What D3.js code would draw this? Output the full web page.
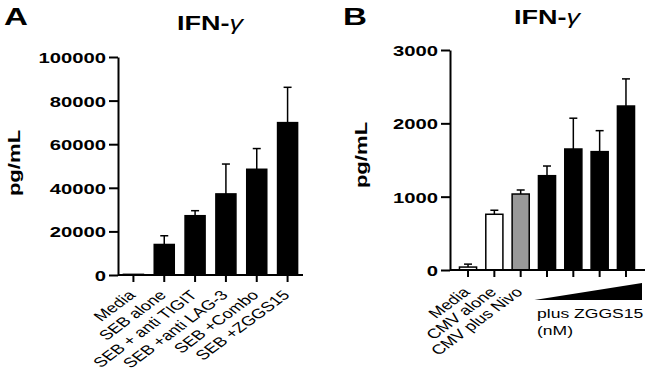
<!DOCTYPE html>
<html><head><meta charset="utf-8">
<script src="https://cdn.jsdelivr.net/npm/d3@7"></script>
<style>
body{margin:0;background:#fff;}
svg{display:block;font-family:"Liberation Sans",Arial,sans-serif;}
</style></head>
<body><svg id="c" width="645" height="372"></svg>
<script>
// Panel A data
const catsA = ["Media","SEB alone","SEB + anti TIGIT","SEB +anti LAG-3","SEB +Combo","SEB +ZGGS15"];
const valsA = [300, 14000, 27200, 37200, 48500, 69900];
const errA  = [0, 4000, 2300, 13700, 9500, 16200];
const ticksA = [0, 20000, 40000, 60000, 80000, 100000];
// Panel B data
const catsB = ["Media","CMV alone","CMV plus Nivo","ZGGS15 c1","ZGGS15 c2","ZGGS15 c3","ZGGS15 c4"];
const labelsB = ["Media","CMV alone","CMV plus Nivo","","","",""];
const valsB = [40, 760, 1036, 1286, 1650, 1614, 2236];
const errB  = [40, 55, 55, 132, 420, 286, 370];
const fillsB = ["#fff","#fff","#999","#000","#000","#000","#000"];
const ticksB = [0, 1000, 2000, 3000];

const svg = d3.select("#c");
const FONT = '"Liberation Sans",Arial,sans-serif';
const SX = 1.35; // wide lettering of the reference

function panel(o){
  const g = svg.append("g");
  const x = d3.scaleBand().domain(o.cats).range([o.x0, o.x1]).paddingInner(o.pi).paddingOuter(o.po);
  const y = d3.scaleLinear().domain([0, o.ymax]).range([o.y0, o.y1]);
  // bars
  g.selectAll("rect.bar").data(o.vals).enter().append("rect")
    .attr("x",(d,i)=>x(o.cats[i])).attr("width",x.bandwidth())
    .attr("y",d=>y(d)).attr("height",d=>y(0)-y(d))
    .attr("fill",(d,i)=>o.fills[i]).attr("stroke","#000").attr("stroke-width",1.5);
  // error bars
  o.vals.forEach((v,i)=>{
    if(!o.errs[i]) return;
    const cx = x(o.cats[i]) + x.bandwidth()/2;
    g.append("line").attr("x1",cx).attr("x2",cx).attr("y1",y(v)).attr("y2",y(v+o.errs[i]))
      .attr("stroke","#000").attr("stroke-width",1.5);
    g.append("line").attr("x1",cx-4).attr("x2",cx+4).attr("y1",y(v+o.errs[i])).attr("y2",y(v+o.errs[i]))
      .attr("stroke","#000").attr("stroke-width",1.5);
  });
  // y axis
  const ts = 9, pad = 3;
  const ya = g.append("g").attr("transform",`translate(${o.x0},0)`)
    .call(d3.axisLeft(y).tickValues(o.ticks).tickSize(ts).tickPadding(pad).tickSizeOuter(0).tickFormat(d3.format("d")));
  ya.select(".domain").attr("stroke-width",2);
  ya.selectAll(".tick line").attr("stroke-width",2);
  ya.selectAll("text").attr("font-family",FONT).attr("font-size",15).attr("font-weight","bold").attr("fill","#000")
    .attr("x",0).attr("dy","0.36em").attr("transform",`translate(${-(ts+pad)},0) scale(${SX},1)`);
  // x axis
  const xa = g.append("g").attr("transform",`translate(0,${o.y0})`)
    .call(d3.axisBottom(x).tickSize(7).tickSizeOuter(0).tickFormat((d,i)=>o.labels[i]));
  xa.select(".domain").attr("d",`M${o.x0},0H${o.axEnd}`).attr("stroke-width",2);
  xa.selectAll(".tick line").attr("stroke-width",2);
  xa.selectAll("text").attr("font-family",FONT).attr("font-size",13.5).attr("fill","#000")
    .attr("text-anchor","end").attr("x",0).attr("y",0).attr("dy",0)
    .attr("transform",`translate(${o.lbx},${o.lby}) scale(${SX},1) rotate(-45)`);
  // y label
  g.append("text").attr("transform",`translate(${o.ylx},${o.yly}) rotate(-90) scale(1.3,1)`)
    .attr("text-anchor","middle").attr("font-size",17).attr("font-weight","bold").text("pg/mL");
  // title
  const t = g.append("text").attr("transform",`translate(${o.tx},${o.ty}) scale(${SX},1)`).attr("text-anchor","middle")
    .attr("font-size",20).attr("font-weight","bold");
  t.append("tspan").text("IFN-");
  t.append("tspan").attr("font-style","italic").attr("font-weight","normal").text("γ");
  // panel letter
  g.append("text").attr("transform",`translate(${o.lx},${o.ly}) scale(1.38,1)`)
    .attr("font-size",24).attr("font-weight","bold").text(o.letter);
  return {g,x,y};
}

panel({cats:catsA, labels:catsA, vals:valsA, errs:errA, fills:catsA.map(()=>"#000"), ticks:ticksA,
  ymax:100000, x0:118, x1:303, axEnd:303, y0:275, y1:57, pi:0.35, po:0.175,
  lbx:3, lby:21, ylx:20, yly:163, tx:210, ty:30, lx:4, ly:25, letter:"A"});

const pB = panel({cats:catsB, labels:labelsB, vals:valsB, errs:errB, fills:fillsB, ticks:ticksB,
  ymax:3000, x0:450, x1:644, axEnd:645, y0:270, y1:50, pi:0.35, po:0.36,
  lbx:3, lby:23, ylx:367, yly:155, tx:547, ty:24, lx:343, ly:25, letter:"B"});

// concentration wedge under ZGGS15 bars
const xb = pB.x;
const wL = xb(catsB[3]) - 4, wR = 642;
pB.g.append("path").attr("d",`M${wL},300L${wR},283L${wR},300Z`).attr("fill","#000");
pB.g.append("text").attr("transform",`translate(537,318) scale(1.3,1)`).attr("font-size",13.5).text("plus ZGGS15");
pB.g.append("text").attr("transform",`translate(537,335) scale(1.3,1)`).attr("font-size",13.5).text("(nM)");
</script></body></html>
